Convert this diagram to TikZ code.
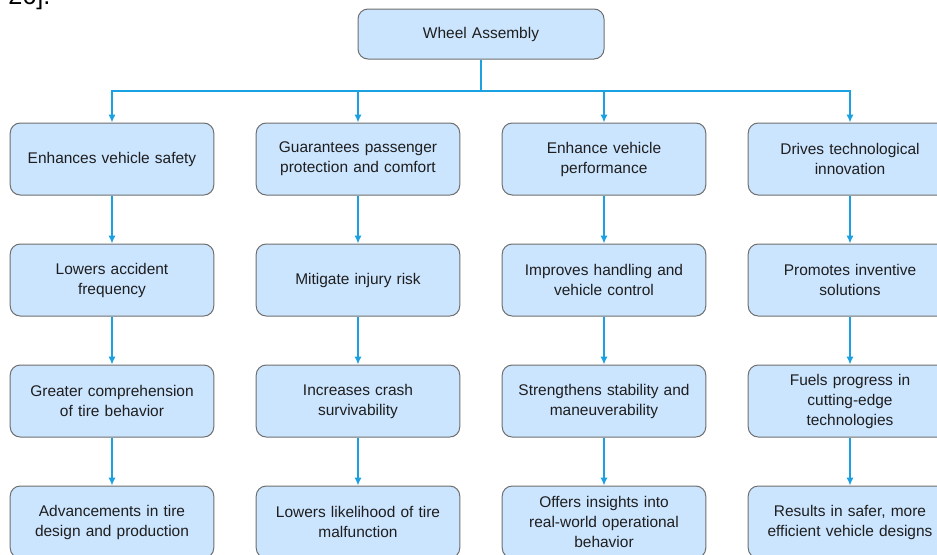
\documentclass[tikz,border=0pt]{standalone}
\usepackage{fontspec}
\setmainfont{Liberation Sans}
\usepackage{xcolor}
\usepackage{tikz}
\usetikzlibrary{shapes,arrows,arrows.meta,positioning,calc}

\definecolor{boxfill}{HTML}{CCE5FF}
\definecolor{boxline}{HTML}{6E6E6E}
\definecolor{linkblue}{HTML}{1BA1E2}
\definecolor{boxtext}{HTML}{1E1E1E}

\begin{document}
\begin{tikzpicture}[
    x=0.75pt, y=-0.75pt,
    node distance=90.75pt,
    font=\fontsize{11.6}{15}\selectfont,
    block/.style={rectangle, draw=boxline, fill=boxfill, line width=0.75pt, text=boxtext, text width=146pt, text centered, rounded corners=7.5pt, minimum width=150pt, minimum height=54pt},
    line/.style={draw=linkblue, line width=1.5pt, -{Latex[length=6pt,width=5.5pt]}}
]
\useasboundingbox (0,0) rectangle (937,554);

% Cut-off text at the top
\node [anchor=base west, inner sep=0pt, font=\fontsize{19}{20}\selectfont] (cut) at (8,4) {26].};

% Wheel Assembly
\node [block, text width=175pt, minimum width=184.5pt, minimum height=37.5pt] (wheel) at (481,34) {Wheel Assembly};

% Safety column
\node [block] (safety) at (112,159) {Enhances vehicle safety};
\node [block, below of=safety] (accident) {Lowers accident\\frequency};
\node [block, below of=accident] (tirebehav) {Greater comprehension\\of tire behavior};
\node [block, below of=tirebehav] (tiredesign) {Advancements in tire\\design and production};

% Protection column
\node [block] (protect) at (358,159) {Guarantees passenger\\protection and comfort};
\node [block, below of=protect] (injury) {Mitigate injury risk};
\node [block, below of=injury] (crash) {Increases crash\\survivability};
\node [block, below of=crash] (malfunc) {Lowers likelihood of tire\\malfunction};

% Performance column
\node [block] (perf) at (604,159) {Enhance vehicle\\performance};
\node [block, below of=perf] (handling) {Improves handling and\\vehicle control};
\node [block, below of=handling] (stability) {Strengthens stability and\\maneuverability};
\node [block, below of=stability] (insights) {Offers insights into\\real-world operational\\behavior};

% Innovation column
\node [block] (innov) at (850,159) {Drives technological\\innovation};
\node [block, below of=innov] (inventive) {Promotes inventive\\solutions};
\node [block, below of=inventive] (progress) {Fuels progress in\\cutting-edge\\technologies};
\node [block, below of=progress] (designs) {Results in safer, more\\efficient vehicle designs};

% Connections
\path [line] (wheel.south) -- ++(0,31) -| (safety.north);
\path [line] (wheel.south) -- ++(0,31) -| (protect.north);
\path [line] (wheel.south) -- ++(0,31) -| (perf.north);
\path [line] (wheel.south) -- ++(0,31) -| (innov.north);

\path [line] (safety) -- (accident);
\path [line] (accident) -- (tirebehav);
\path [line] (tirebehav) -- (tiredesign);

\path [line] (protect) -- (injury);
\path [line] (injury) -- (crash);
\path [line] (crash) -- (malfunc);

\path [line] (perf) -- (handling);
\path [line] (handling) -- (stability);
\path [line] (stability) -- (insights);

\path [line] (innov) -- (inventive);
\path [line] (inventive) -- (progress);
\path [line] (progress) -- (designs);

\end{tikzpicture}
\end{document}
